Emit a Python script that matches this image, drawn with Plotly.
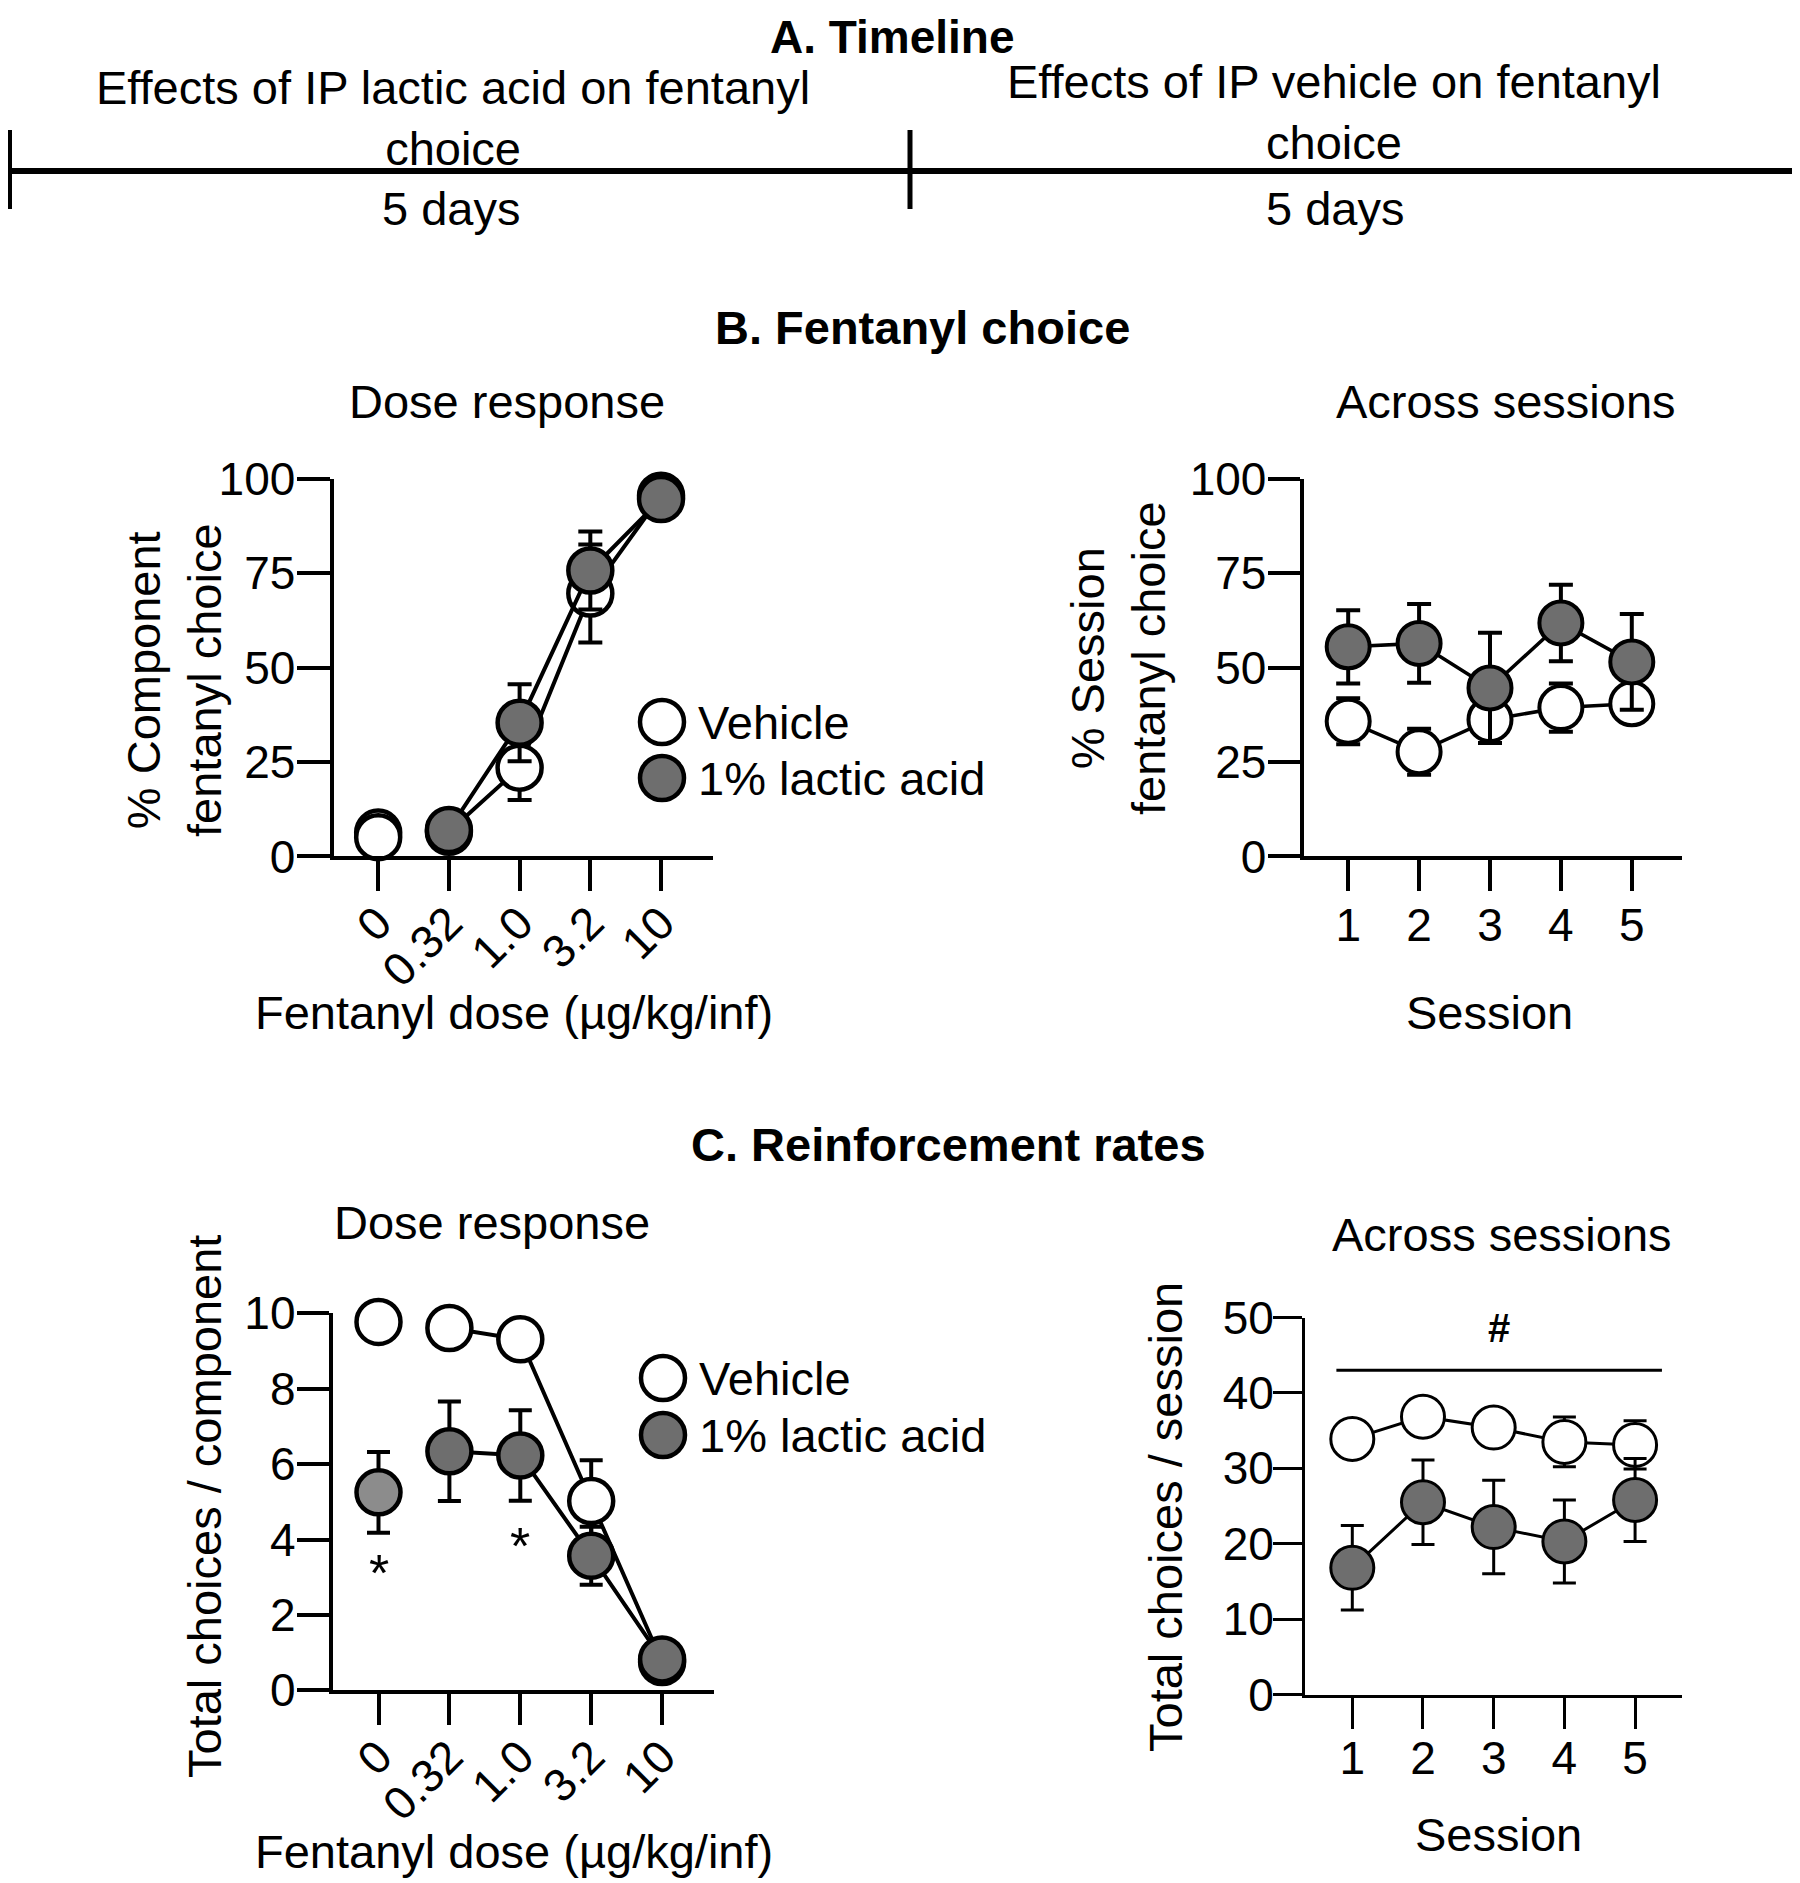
import plotly.graph_objects as go

# the page puts the plot 8 px in from the top-left corner, so the figure is
# made 8 px smaller and every position below is given in screenshot pixels
OX, OY = 8, 8
W, H = 1800 - OX, 1883 - OY
FONT = "Liberation Sans, Arial, sans-serif"

# ---- data ----
dose_labels = ["0", "0.32", "1.0", "3.2", "10"]
dose_idx = [0, 1, 2, 3, 4]
sessions = [1, 2, 3, 4, 5]

# B. % component fentanyl choice (dose response)
veh_comp_pct = [5.1, 6.5, 23.5, 69.6, 95.5]
veh_comp_pct_err = [2.0, 2.0, 8.6, 13.0, 2.0]
lac_comp_pct = [6.3, 7.0, 35.4, 75.7, 94.6]
lac_comp_pct_err = [2.0, 2.0, 10.2, 10.3, 2.0]

# B. % session fentanyl choice (across sessions)
veh_sess_pct = [35.8, 27.7, 36.2, 39.4, 40.4]
veh_sess_pct_err = [6.1, 6.1, 6.2, 6.4, 4.0]
lac_sess_pct = [55.5, 56.4, 44.6, 61.8, 51.5]
lac_sess_pct_err = [9.7, 10.4, 14.6, 10.1, 12.7]

# C. total choices / component (dose response)
veh_comp_tot = [9.77, 9.61, 9.31, 5.02, 0.75]
veh_comp_tot_err = [0.2, 0.2, 0.2, 1.08, 0.2]
lac_comp_tot = [5.25, 6.34, 6.23, 3.57, 0.82]
lac_comp_tot_err = [1.07, 1.32, 1.2, 0.77, 0.2]

# C. total choices / session (across sessions)
veh_sess_tot = [33.9, 36.85, 35.4, 33.5, 33.1]
veh_sess_tot_err = [1.0, 1.0, 1.0, 3.3, 3.2]
lac_sess_tot = [16.8, 25.5, 22.2, 20.3, 25.8]
lac_sess_tot_err = [5.6, 5.6, 6.2, 5.5, 5.5]

series_names = ["Vehicle", "1% lactic acid"]
timeline_phases = ["Effects of IP lactic acid on fentanyl<br>choice",
                   "Effects of IP vehicle on fentanyl<br>choice"]
timeline_durations = ["5 days", "5 days"]

WHITE = "white"
GREY = "#6e6e6e"
LIGHT = "#8c8c8c"


def px(x, y):
    return (x - OX) / W, 1 - (y - OY) / H


def scatter(x, y, err, fill, xa, ya, st, mode="lines+markers"):
    return go.Scatter(
        x=x, y=y, mode=mode, xaxis=xa, yaxis=ya, cliponaxis=False,
        line=dict(color="black", width=st["lw"]),
        marker=dict(size=st["ms"], color=fill, line=dict(color="black", width=st["mlw"])),
        error_y=dict(type="data", array=err, color="black", thickness=st["ew"], width=st["cap"]),
        showlegend=False, hoverinfo="skip")


st_b = dict(lw=4, ms=44, mlw=4.5, ew=4, cap=12)
st_br = dict(lw=3.5, ms=43, mlw=4, ew=4, cap=12)
st_c = dict(lw=4, ms=44, mlw=4.5, ew=4, cap=11.5)
st_cr = dict(lw=3, ms=43, mlw=3, ew=3, cap=11.5)

fig = go.Figure()

# B left: dose 0 is not joined to the rest
fig.add_trace(scatter(dose_idx[:1], lac_comp_pct[:1], lac_comp_pct_err[:1], WHITE, "x", "y", st_b, "markers"))
fig.add_trace(scatter(dose_idx[:1], veh_comp_pct[:1], veh_comp_pct_err[:1], WHITE, "x", "y", st_b, "markers"))
fig.add_trace(scatter(dose_idx[1:], veh_comp_pct[1:], veh_comp_pct_err[1:], WHITE, "x", "y", st_b))
fig.add_trace(scatter(dose_idx[1:], lac_comp_pct[1:], lac_comp_pct_err[1:], GREY, "x", "y", st_b))

# B right
fig.add_trace(scatter(sessions, veh_sess_pct, veh_sess_pct_err, WHITE, "x2", "y2", st_br))
fig.add_trace(scatter(sessions, lac_sess_pct, lac_sess_pct_err, GREY, "x2", "y2", st_br))

# C left
fig.add_trace(scatter(dose_idx[:1], lac_comp_tot[:1], lac_comp_tot_err[:1], LIGHT, "x3", "y3", st_c, "markers"))
fig.add_trace(scatter(dose_idx[:1], veh_comp_tot[:1], veh_comp_tot_err[:1], WHITE, "x3", "y3", st_c, "markers"))
fig.add_trace(scatter(dose_idx[1:], veh_comp_tot[1:], veh_comp_tot_err[1:], WHITE, "x3", "y3", st_c))
fig.add_trace(scatter(dose_idx[1:], lac_comp_tot[1:], lac_comp_tot_err[1:], GREY, "x3", "y3", st_c))

# C right
fig.add_trace(scatter(sessions, veh_sess_tot, veh_sess_tot_err, WHITE, "x4", "y4", st_cr))
fig.add_trace(scatter(sessions, lac_sess_tot, lac_sess_tot_err, GREY, "x4", "y4", st_cr))


def xax(x0, x1, y_anchor, rng, vals, text, angle, lw, standoff):
    return dict(domain=[(x0 - OX) / W, (x1 - OX) / W], range=rng, anchor=y_anchor, automargin=False,
                tickvals=vals, ticktext=text, tickangle=angle,
                showline=True, linecolor="black", linewidth=lw,
                ticks="outside", ticklen=31, tickwidth=lw, tickcolor="black",
                ticklabelstandoff=standoff,
                tickfont=dict(family=FONT, size=46, color="black"),
                showgrid=False, zeroline=False, fixedrange=True)


def yax(y_bottom, y_top, x_anchor, rng, vals, lw, ticklen, standoff):
    return dict(domain=[1 - (y_bottom - OY) / H, 1 - (y_top - OY) / H], range=rng, anchor=x_anchor,
                automargin=False, tickvals=vals, showline=True, linecolor="black", linewidth=lw,
                ticks="outside", ticklen=ticklen, tickwidth=lw, tickcolor="black",
                ticklabelstandoff=standoff,
                tickfont=dict(family=FONT, size=46, color="black"),
                showgrid=False, zeroline=False, fixedrange=True)


session_labels = [str(s) for s in sessions]
fig.update_layout(
    template="none",
    xaxis=xax(333.5, 713, "y", [-0.632, 4.735], dose_idx, dose_labels, -45, 4, -14),
    yaxis=yax(856.4, 478.7, "x", [0, 100], [0, 25, 50, 75, 100], 4, 33, -8),
    xaxis2=xax(1303.6, 1681.7, "y2", [0.371, 5.704], sessions, session_labels, 0, 4, -6),
    yaxis2=yax(856.4, 478.7, "x2", [0, 100], [0, 25, 50, 75, 100], 4, 32, -8),
    xaxis3=xax(332.7, 713.5, "y3", [-0.646, 4.725], dose_idx, dose_labels, -45, 4, -14),
    yaxis3=yax(1690.3, 1313.3, "x3", [0, 10], [0, 2, 4, 6, 8, 10], 4, 32, -8),
    xaxis4=xax(1305, 1682.3, "y4", [0.331, 5.668], sessions, session_labels, 0, 3, -10),
    yaxis4=yax(1694.5, 1317.5, "x4", [0, 50], [0, 10, 20, 30, 40, 50], 3, 29, -10),
)

ann = []


def label(text, x, y, size=47, bold=False, angle=0, xanchor="center"):
    ax, ay = px(x, y)
    if bold:
        text = "<b>" + text + "</b>"
    ann.append(dict(text=text, x=ax, y=ay, xref="paper", yref="paper", showarrow=False,
                    textangle=angle, xanchor=xanchor, yanchor="middle",
                    font=dict(family=FONT, size=size, color="black")))


# section titles
label("A. Timeline", 892, 37, size=46, bold=True)
label("B. Fentanyl choice", 922, 327, bold=True)
label("C. Reinforcement rates", 949, 1144, bold=True)

# timeline text
label(timeline_phases[0], 453, 118)
label(timeline_phases[1], 1334, 112)
label(timeline_durations[0], 451, 209)
label(timeline_durations[1], 1335, 209)

# panel subtitles
label("Dose response", 507, 401)
label("Across sessions", 1506, 401)
label("Dose response", 492, 1222)
label("Across sessions", 1502, 1234)

# axis titles
label("% Component<br>fentanyl choice", 174, 680, angle=-90)
label("% Session<br>fentanyl choice", 1118, 658, angle=-90)
label("Total choices / component", 204, 1507, angle=-90)
label("Total choices / session", 1165, 1517, angle=-90)
label("Fentanyl dose (µg/kg/inf)", 514, 1012)
label("Session", 1489, 1012)
label("Fentanyl dose (µg/kg/inf)", 514, 1851)
label("Session", 1498, 1834)

# legends (drawn by hand so the symbols keep full size)
shapes = []
legend_rows = [(662, 722, 778), (663, 1378, 1435)]
for lx, y_veh, y_lac in legend_rows:
    for name, yy, fill in [(series_names[0], y_veh, WHITE), (series_names[1], y_lac, GREY)]:
        r = 22
        x0, y0 = px(lx - r, yy + r)
        x1, y1 = px(lx + r, yy - r)
        shapes.append(dict(type="circle", xref="paper", yref="paper", x0=x0, y0=y0, x1=x1, y1=y1,
                           fillcolor=fill, line=dict(color="black", width=4.5)))
        label(name, lx + 34, yy, xanchor="left")

# significance marks
for xi, yv in [(0, 3.38), (2, 4.08)]:
    ann.append(dict(text="*", x=xi, y=yv, xref="x3", yref="y3", showarrow=False, yshift=-10,
                    font=dict(family=FONT, size=52, color="black")))
hash_bar = dict(x0=0.775, x1=5.38, y=43.0)
shapes.append(dict(type="line", xref="x4", yref="y4", x0=hash_bar["x0"], x1=hash_bar["x1"],
                   y0=hash_bar["y"], y1=hash_bar["y"], line=dict(color="black", width=3)))
ann.append(dict(text="<b>#</b>", x=3.07, y=48.6, xref="x4", yref="y4", showarrow=False,
                font=dict(family=FONT, size=40, color="black")))


# timeline bar
def pline(x0, y0, x1, y1, w):
    a, b = px(x0, y0)
    c, d = px(x1, y1)
    shapes.append(dict(type="line", xref="paper", yref="paper", x0=a, y0=b, x1=c, y1=d,
                       line=dict(color="black", width=w)))


pline(9, 171, 1797, 171, 6)
for tx in [9.5, 910, 1795]:
    pline(tx, 130, tx, 209, 5)

fig.update_layout(
    width=W, height=H, autosize=False,
    margin=dict(l=0, r=0, t=0, b=0, pad=0),
    paper_bgcolor="white", plot_bgcolor="white",
    annotations=ann, shapes=shapes, showlegend=False,
    font=dict(family=FONT, color="black"),
)

fig.write_html("out.html")
